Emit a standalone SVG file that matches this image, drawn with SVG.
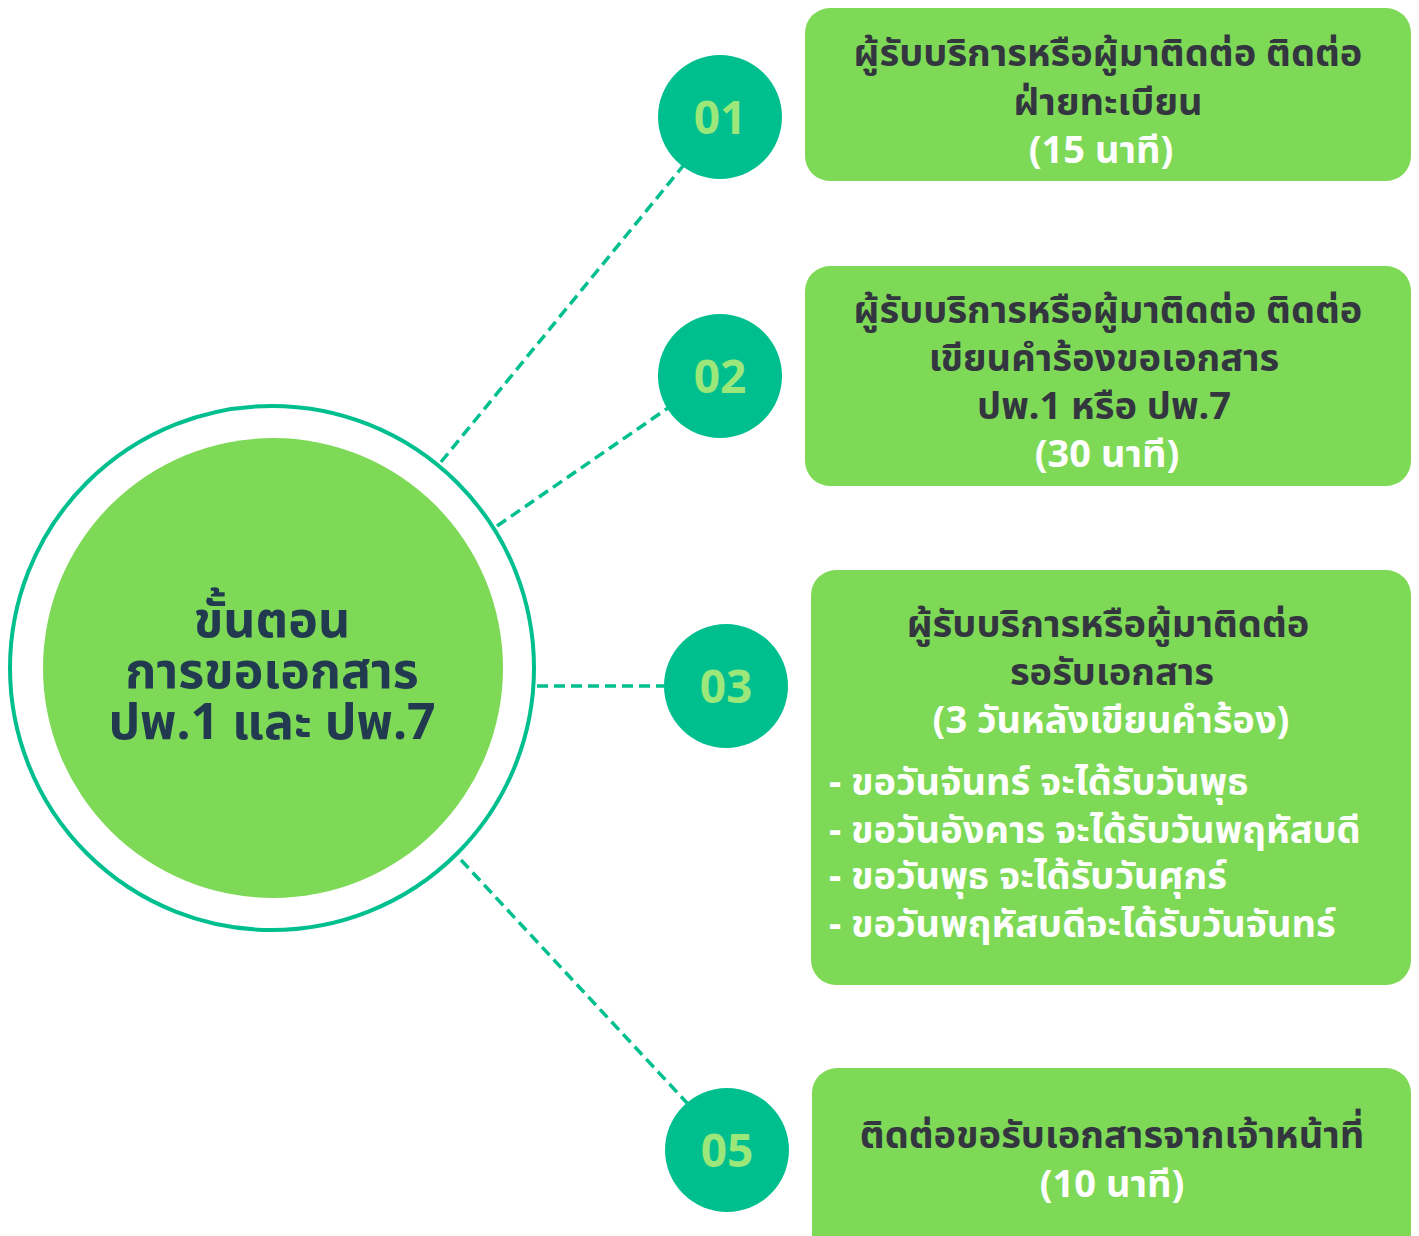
<svg xmlns="http://www.w3.org/2000/svg" width="1419" height="1236" viewBox="0 0 1419 1236">
<style>
.box{fill:#7ED957}
.num{fill:#00BF8F}
.numt{fill:#9BE77A;font-family:"Noto Sans","DejaVu Sans",sans-serif;font-weight:700;font-size:46px;text-anchor:middle}
.t{font-family:"Noto Sans","Noto Sans Thai","DejaVu Sans",sans-serif;font-weight:700;font-size:38px;text-anchor:middle;fill:#33363F}
.w{fill:#FFFFFF}
.l{text-anchor:start}
.c{font-family:"Noto Sans","Noto Sans Thai","DejaVu Sans",sans-serif;font-weight:700;font-size:50px;text-anchor:middle;fill:#213A50}
.dash{stroke:#00BF8F;stroke-width:3.5;stroke-dasharray:11 6;fill:none}
</style>
<rect width="1419" height="1236" fill="#FFFFFF"/>
<g id="connectors">
<line class="dash" x1="441" y1="462" x2="683" y2="166"/>
<line class="dash" x1="497" y1="526" x2="668" y2="408"/>
<line class="dash" x1="537" y1="686" x2="664" y2="686"/>
<line class="dash" x1="461" y1="860" x2="688" y2="1104"/>
</g>
<g id="center">
<circle cx="272" cy="668" r="262" fill="none" stroke="#00BF8F" stroke-width="4"/>
<circle cx="273" cy="668" r="230" fill="#7ED957"/>
<text class="c" x="272" y="637">ขั้นตอน</text>
<text class="c" x="272" y="688">การขอเอกสาร</text>
<text class="c" x="272" y="739">ปพ.1 และ ปพ.7</text>
</g>
<g id="n01"><circle class="num" cx="720" cy="117" r="62"/><text class="numt" x="720" y="134">01</text></g>
<g id="n02"><circle class="num" cx="720" cy="376" r="62"/><text class="numt" x="720" y="393">02</text></g>
<g id="n03"><circle class="num" cx="726" cy="686" r="62"/><text class="numt" x="726" y="703">03</text></g>
<g id="n05"><circle class="num" cx="727" cy="1150" r="62"/><text class="numt" x="727" y="1167">05</text></g>
<g id="box1">
<rect class="box" x="805" y="8" width="606" height="173" rx="25"/>
<text class="t" x="1108" y="66">ผู้รับบริการหรือผู้มาติดต่อ ติดต่อ</text>
<text class="t" x="1108" y="115">ฝ่ายทะเบียน</text>
<text class="t w" x="1101" y="163">(15 นาที)</text>
</g>
<g id="box2">
<rect class="box" x="805" y="266" width="606" height="220" rx="25"/>
<text class="t" x="1108" y="323">ผู้รับบริการหรือผู้มาติดต่อ ติดต่อ</text>
<text class="t" x="1104" y="371">เขียนคำร้องขอเอกสาร</text>
<text class="t" x="1104" y="419">ปพ.1 หรือ ปพ.7</text>
<text class="t w" x="1107" y="467">(30 นาที)</text>
</g>
<g id="box3">
<rect class="box" x="811" y="570" width="600" height="415" rx="25"/>
<text class="t" x="1108" y="637">ผู้รับบริการหรือผู้มาติดต่อ</text>
<text class="t" x="1112" y="685">รอรับเอกสาร</text>
<text class="t w" x="1111" y="733">(3 วันหลังเขียนคำร้อง)</text>
<text class="t w l" x="829" y="795">- ขอวันจันทร์ จะได้รับวันพุธ</text>
<text class="t w l" x="829" y="843">- ขอวันอังคาร จะได้รับวันพฤหัสบดี</text>
<text class="t w l" x="829" y="889">- ขอวันพุธ จะได้รับวันศุกร์</text>
<text class="t w l" x="829" y="937">- ขอวันพฤหัสบดีจะได้รับวันจันทร์</text>
</g>
<g id="box5">
<rect class="box" x="812" y="1068" width="599" height="190" rx="25"/>
<text class="t" x="1112" y="1148">ติดต่อขอรับเอกสารจากเจ้าหน้าที่</text>
<text class="t w" x="1112" y="1197">(10 นาที)</text>
</g>
</svg>
